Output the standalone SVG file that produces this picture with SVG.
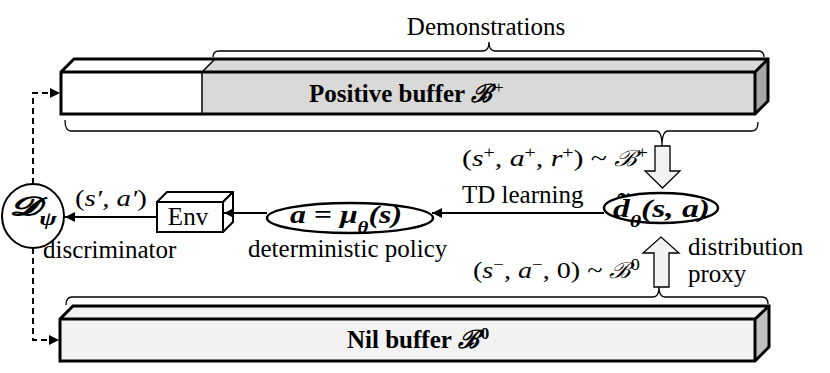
<svg xmlns="http://www.w3.org/2000/svg" width="830" height="373" viewBox="0 0 830 373">
<style>
text{font-family:"Liberation Serif","DejaVu Serif",serif;fill:#000}
.t{font-size:25px}
.m{font-size:24px;font-style:italic}
.b{font-size:25px;font-weight:bold}
.bi{font-size:26px;font-weight:bold;font-style:italic}
.scr{font-family:"DejaVu Serif",serif;font-style:italic}
.edge{stroke:#000;stroke-width:3;stroke-linejoin:miter}
.brace{fill:none;stroke:#000;stroke-width:1.3}
.conn{fill:none;stroke:#000;stroke-width:2}
.dash{fill:none;stroke:#000;stroke-width:2;stroke-dasharray:6 4}
.blk{fill:#f2f2f2;stroke:#000;stroke-width:1.3}
</style>
<defs>
<marker id="ah" viewBox="0 0 10 10" refX="10" refY="5" markerWidth="5" markerHeight="5" orient="auto" markerUnits="strokeWidth">
<path d="M0,0 L10,5 L0,10 z" fill="#000"/>
</marker>
</defs>

<g id="demonstrations-label">
<path class="brace" d="M213,57 Q213,51 219,51 L483,51 Q489,51 489,42 Q489,51 495,51 L758,51 Q764,51 764,57"/>
<text class="t" x="486" y="35" text-anchor="middle">Demonstrations</text>
</g>

<g id="positive-buffer">
<polygon points="61,72 74,59 215,59 202,72" fill="#fff"/>
<polygon points="202,72 215,59 768,59 755,72" fill="#d9d9d9"/>
<rect x="61" y="72" width="141" height="42" fill="#fff"/>
<rect x="202" y="72" width="553" height="42" fill="#d9d9d9"/>
<polygon points="755,72 768,59 768,101 755,114" fill="#a6a6a6"/>
<path d="M202,114 L202,72 L215,59" fill="none" stroke="#000" stroke-width="1.5"/>
<path class="edge" fill="none" d="M61,72 L74,59 L768,59 L768,101 L755,114 L61,114 Z M61,72 L755,72 L768,59 M755,72 L755,114"/>
<text class="b" x="309" y="102">Positive buffer <tspan class="scr">ℬ</tspan><tspan dx="2" baseline-shift="super" font-size="17" font-weight="normal">+</tspan></text>
</g>

<g id="nil-buffer">
<polygon points="60,319 73,306 769,306 755,319" fill="#f2f2f2"/>
<rect x="60" y="319" width="695" height="42" fill="#f2f2f2"/>
<polygon points="755,319 769,306 769,347 755,361" fill="#c0c0c0"/>
<path class="edge" fill="none" d="M60,319 L73,306 L769,306 L769,347 L755,361 L60,361 Z M60,319 L755,319 L769,306 M755,319 L755,361"/>
<text class="b" x="347" y="348">Nil buffer <tspan class="scr">ℬ</tspan><tspan dx="2" baseline-shift="super" font-size="17">0</tspan></text>
</g>

<g id="discriminator">
<ellipse cx="33" cy="216" rx="31" ry="32" fill="#fff" stroke="#000" stroke-width="2"/>
<text class="bi" x="10" y="215" font-size="28" textLength="47" lengthAdjust="spacingAndGlyphs">𝓓<tspan baseline-shift="sub" font-size="18">ψ</tspan></text>
<text class="t" x="43" y="258">discriminator</text>
</g>

<g id="env">
<polygon points="157,202 167,192 233,192 223,202" fill="#fff" stroke="#000" stroke-width="2" stroke-linejoin="round"/>
<polygon points="223,202 233,192 233,222 223,232" fill="#fff" stroke="#000" stroke-width="2" stroke-linejoin="round"/>
<rect x="157" y="202" width="66" height="30" fill="#fff" stroke="#000" stroke-width="2"/>
<text class="t" x="188" y="225" text-anchor="middle">Env</text>
</g>

<g id="policy">
<ellipse cx="350" cy="218" rx="83" ry="15" fill="#fff" stroke="#000" stroke-width="2.5"/>
<text class="bi" x="290" y="223" textLength="112" lengthAdjust="spacingAndGlyphs">a = μ<tspan baseline-shift="sub" font-size="17">θ</tspan>(s)</text>
<text class="t" x="248" y="257">deterministic policy</text>
</g>

<g id="distribution-proxy">
<ellipse cx="661" cy="208" rx="57" ry="15" fill="#fff" stroke="#000" stroke-width="2.5"/>
<text class="bi" x="613" y="217" textLength="97" lengthAdjust="spacingAndGlyphs">d̃<tspan baseline-shift="sub" font-size="17">θ</tspan>(s, a)</text>
<text class="t" x="688" y="255">distribution</text>
<text class="t" x="688" y="282">proxy</text>
</g>

<g id="connectors">
<path class="brace" d="M65,120 Q65,131 71,131 L656,131 Q662,131 662,146 Q662,131 668,131 L752,131 Q758,131 758,122"/>
<polygon class="blk" points="655,146 670,146 670,171 680,171 662.5,188 645,171 655,171"/>
<path class="brace" d="M66,305 Q66,297 72,297 L653,297 Q659,297 659,287 Q659,297 665,297 L762,297 Q768,297 768,304"/>
<polygon class="blk" points="654,287 669,287 669,253 679,253 661,237 643,253 654,253"/>
<line class="conn" x1="604" y1="213" x2="432" y2="213" marker-end="url(#ah)"/>
<line class="conn" x1="267" y1="213" x2="224" y2="213" marker-end="url(#ah)"/>
<line class="conn" x1="157" y1="217" x2="65" y2="217" marker-end="url(#ah)"/>
<path class="dash" d="M33,184 L33,93 L60,93" marker-end="url(#ah)"/>
<path class="dash" d="M33,248 L33,340 L59,340" marker-end="url(#ah)"/>
<text class="m" x="75" y="206" textLength="72" lengthAdjust="spacingAndGlyphs"><tspan font-style="normal">(</tspan>s′, a′<tspan font-style="normal">)</tspan></text>
<text class="t" x="462" y="203">TD learning</text>
<text class="m" x="462" y="166" textLength="186" lengthAdjust="spacingAndGlyphs"><tspan font-style="normal">(</tspan>s<tspan baseline-shift="super" font-size="16" font-style="normal">+</tspan>, a<tspan baseline-shift="super" font-size="16" font-style="normal">+</tspan>, r<tspan baseline-shift="super" font-size="16" font-style="normal">+</tspan><tspan font-style="normal">) ~ </tspan><tspan class="scr" font-size="22">ℬ</tspan><tspan baseline-shift="super" font-size="16" font-style="normal">+</tspan></text>
<text class="m" x="473" y="278" textLength="167" lengthAdjust="spacingAndGlyphs"><tspan font-style="normal">(</tspan>s<tspan baseline-shift="super" font-size="16" font-style="normal">−</tspan>, a<tspan baseline-shift="super" font-size="16" font-style="normal">−</tspan><tspan font-style="normal">, 0) ~ </tspan><tspan class="scr" font-size="22">ℬ</tspan><tspan baseline-shift="super" font-size="16" font-style="normal">0</tspan></text>
</g>
</svg>
